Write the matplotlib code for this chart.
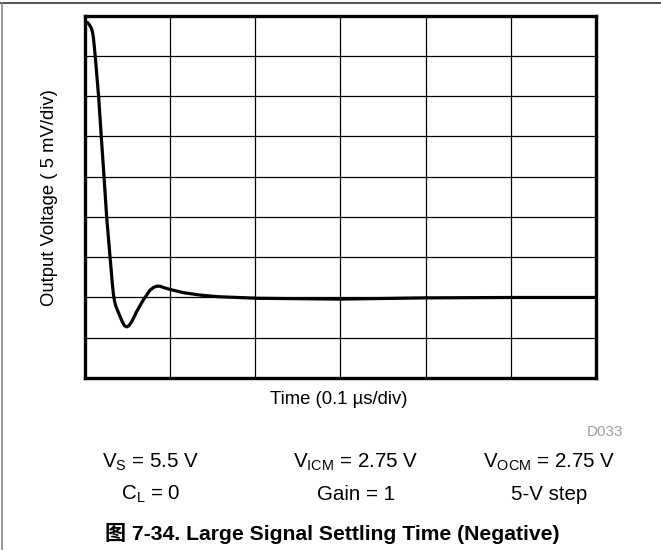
import matplotlib
matplotlib.use("Agg")
import matplotlib.pyplot as plt
from matplotlib.lines import Line2D

# trace, in grid divisions
# x: time (0.1 us/div), y: output voltage (5 mV/div), bottom of grid = 0
time_div = [0.0, 0.01, 0.035, 0.059, 0.08, 0.094, 0.105, 0.127, 0.166, 0.197,
            0.229, 0.26, 0.30, 0.322, 0.338, 0.353, 0.37, 0.405, 0.443, 0.469,
            0.495, 0.522, 0.554, 0.612, 0.69, 0.768, 0.81, 0.847, 0.886, 0.924,
            1.003, 1.159, 1.355, 1.566, 2.03, 3.0, 4.0, 5.0, 6.0]
volt_div = [8.85, 8.84, 8.83, 8.77, 8.69, 8.59, 8.45, 7.97, 6.98, 5.99,
            5.00, 4.00, 3.00, 2.45, 2.10, 1.90, 1.77, 1.59, 1.40, 1.30,
            1.27, 1.30, 1.40, 1.65, 1.94, 2.18, 2.25, 2.28, 2.28, 2.25,
            2.20, 2.12, 2.06, 2.02, 1.98, 1.96, 1.99, 2.00, 2.00]

n_xdiv = 6
n_ydiv = 9

cond_row1 = ["V$_\\mathregular{S}$ = 5.5 V", "V$_\\mathregular{ICM}$ = 2.75 V",
             "V$_\\mathregular{OCM}$ = 2.75 V"]
cond_row2 = ["C$_\\mathregular{L}$ = 0", "Gain = 1", "5-V step"]
cond_x = [151, 356, 549]

FONT = ["Liberation Sans", "Noto Sans CJK SC", "DejaVu Sans"]
plt.rcParams["font.family"] = FONT
plt.rcParams["mathtext.fontset"] = "custom"
plt.rcParams["mathtext.rm"] = "Liberation Sans"

W, H = 661, 550
fig = plt.figure(figsize=(W / 100, H / 100), dpi=100)
ax = fig.add_axes([84.5 / W, 1 - 378 / H, (596 - 84.5) / W, (378 - 15.7) / H])

ax.set_xlim(0, n_xdiv)
ax.set_ylim(0, n_ydiv)
ax.set_xticks(range(n_xdiv + 1))
ax.set_yticks(range(n_ydiv + 1))
ax.tick_params(length=0, labelbottom=False, labelleft=False)
ax.grid(True, color="black", linewidth=0.9)
for sp in ax.spines.values():
    sp.set_linewidth(2.4)
    sp.set_color("black")

ax.plot(time_div, volt_div, color="black", linewidth=2.3,
        solid_capstyle="round", solid_joinstyle="round")

fig.text(50 / W, 1 - 198 / H, "Output Voltage ( 5 mV/div)", rotation=90,
         ha="center", va="center", fontsize=13.3)
fig.text(339 / W, 1 - 400 / H, "Time (0.1 \u00b5s/div)", ha="center", va="center",
         fontsize=13.3)
fig.text(623 / W, 1 - 432 / H, "D033", ha="right", va="center", fontsize=11,
         color="#a0a0a0")

for x, t in zip(cond_x, cond_row1):
    fig.text(x / W, 1 - 462 / H, t, ha="center", va="center", fontsize=14.8)
for x, t in zip(cond_x, cond_row2):
    fig.text(x / W, 1 - 494 / H, t, ha="center", va="center", fontsize=14.8)

fig.text(332 / W, 1 - 533 / H, "\u56fe 7-34. Large Signal Settling Time (Negative)",
         ha="center", va="center", fontsize=15.2, fontweight="bold")

# page frame
fig.add_artist(Line2D([0, 1], [1 - 3.3 / H, 1 - 3.3 / H], color="#333333", linewidth=1.2))
fig.add_artist(Line2D([1.7 / W, 1.7 / W], [0, 1 - 3.3 / H], color="#888888", linewidth=1.2))

fig.savefig("out.png", dpi=100)
